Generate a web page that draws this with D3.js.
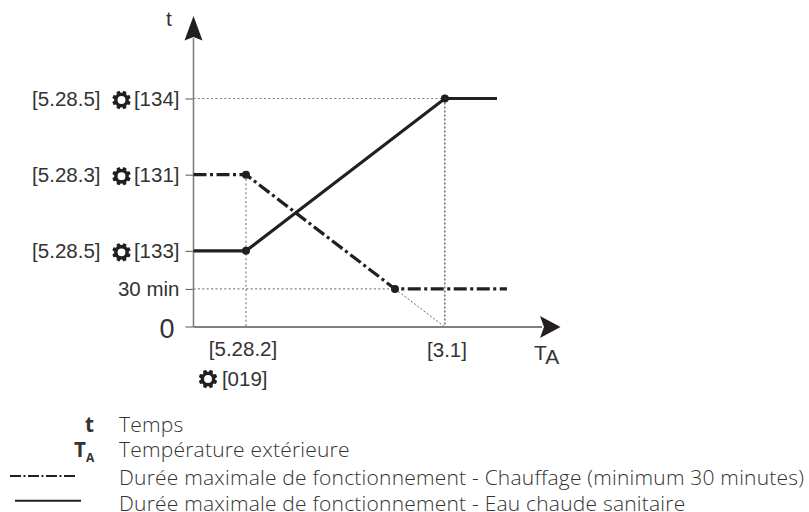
<!DOCTYPE html>
<html><head><meta charset="utf-8">
<script src="https://cdnjs.cloudflare.com/ajax/libs/d3/7.8.5/d3.min.js"></script>
<style>html,body{margin:0;padding:0;background:#fff}svg{display:block}</style></head>
<body><svg id="c" width="809" height="512"></svg>
<script>
// abstract units: TA on 0-100 axis, t in minutes
const hotWaterTA=[0,14.3,68.5,82.7];
const hotWaterT=[60,60,180,180];
const heatingTA=[0,14.3,54.9,85.4];
const heatingT=[120,120,30,30];
const hotWaterKnotsTA=[14.3,68.5];
const hotWaterKnotsT=[60,180];
const heatingKnotsTA=[14.3,54.9];
const heatingKnotsT=[120,30];
const yTickValues=[180,120,60,30];
const yLeftLabels=["[5.28.5]","[5.28.3]","[5.28.5]",""];
const yRightLabels=["[134]","[131]","[133]","30 min"];
const yGear=[true,true,true,false];
const legendTexts=["Temps","Température extérieure","Durée maximale de fonctionnement - Chauffage (minimum 30 minutes)","Durée maximale de fonctionnement - Eau chaude sanitaire"];

const svg=d3.select("#c");
const x=d3.scaleLinear().domain([0,100]).range([193.5,560.5]);
const y=d3.scaleLinear().domain([0,180]).range([327,98.5]);
const AF="'Liberation Sans',Arial,sans-serif", LF="'Open Sans',sans-serif";
const dark="#231f20", txt="#333333", grey="#808080";
const line=d3.line().x(d=>x(d[0])).y(d=>y(d[1]));

function gearPath(r){
  const n=8,pts=[],ro=r,ri=r*0.78;
  for(let i=0;i<n;i++){
    const a=(i+0.5)/n*2*Math.PI, w=Math.PI/n;
    [[-0.72,ri],[-0.42,ro],[0.42,ro],[0.72,ri]].forEach(([k,rr])=>{
      const t=a+k*w; pts.push([rr*Math.cos(t),rr*Math.sin(t)]);
    });
  }
  const hole=r*0.42;
  return d3.line()(pts)+"Z"+`M${hole},0A${hole},${hole} 0 1,0 ${-hole},0A${hole},${hole} 0 1,0 ${hole},0Z`;
}
function gear(cx,cy){
  svg.append("path").attr("d",gearPath(9.4)).attr("transform",`translate(${cx},${cy})`)
    .attr("fill",dark).attr("fill-rule","evenodd");
}

const guide=(x1,y1,x2,y2,w,da,c)=>svg.append("line").attr("x1",x1).attr("y1",y1).attr("x2",x2).attr("y2",y2)
  .attr("stroke",c||grey).attr("stroke-width",w||1.2).attr("stroke-dasharray",da||"2 2.4");
guide(x(0),y(180),x(68.5),y(180));
guide(x(0),y(30),x(54.9),y(30));
guide(x(14.3),y(120),x(14.3),y(0));
guide(x(68.5),y(180),x(68.5),y(0),1,"2 2","#231f20");
guide(x(54.9),y(30),x(68.5),y(0),0.8,"2 2","#444");

const yAxis=d3.axisLeft(y).tickValues(yTickValues).tickSize(8).tickFormat("");
const gy=svg.append("g").attr("transform",`translate(${x(0)},0)`).call(yAxis);
gy.select(".domain").remove();
gy.selectAll("line").attr("stroke","#555").attr("stroke-width",1);
svg.append("line").attr("x1",x(0)).attr("x2",x(0)).attr("y1",y(0)).attr("y2",38).attr("stroke",grey).attr("stroke-width",1.6);
svg.append("line").attr("x1",x(0)-8).attr("x2",x(0)).attr("y1",y(0)).attr("y2",y(0)).attr("stroke","#555").attr("stroke-width",1);
svg.append("line").attr("x1",x(0)).attr("x2",542).attr("y1",y(0)).attr("y2",y(0)).attr("stroke",grey).attr("stroke-width",2);
svg.append("path").attr("d",d3.line()([[x(0),16],[x(0)+9,40.5],[x(0),37],[x(0)-9,40.5]])+"Z").attr("fill",dark);
svg.append("path").attr("d",d3.line()([[560.5,y(0)],[540,y(0)+11],[544,y(0)],[540,y(0)-11]])+"Z").attr("fill",dark);

svg.append("path").datum(d3.zip(heatingTA,heatingT)).attr("d",line).attr("fill","none").attr("stroke",dark).attr("stroke-width",3.2).attr("stroke-dasharray","13 3.5 3 3.5");
svg.append("path").datum(d3.zip(hotWaterTA,hotWaterT)).attr("d",line).attr("fill","none").attr("stroke",dark).attr("stroke-width",3.2);
svg.selectAll(".k1").data(d3.zip(hotWaterKnotsTA,hotWaterKnotsT)).join("circle").attr("cx",d=>x(d[0])).attr("cy",d=>y(d[1])).attr("r",4).attr("fill",dark);
svg.selectAll(".k2").data(d3.zip(heatingKnotsTA,heatingKnotsT)).join("circle").attr("cx",d=>x(d[0])).attr("cy",d=>y(d[1])).attr("r",4).attr("fill",dark);

const T=(s,xx,yy,fs,anc,fam,fw)=>svg.append("text").text(s).attr("x",xx).attr("y",yy).attr("font-size",fs).attr("text-anchor",anc||"start").attr("font-family",fam||AF).attr("font-weight",fw||400).attr("fill",txt);
yTickValues.forEach((v,i)=>{
  const yy=y(v)+7;
  T(yRightLabels[i],179.5,yy,20.5,"end");
  if(yLeftLabels[i]) T(yLeftLabels[i],100.5,yy,20.5,"end");
  if(yGear[i]) gear(121.5,y(v)+1.5);
});
T("t",169,26,21,"middle");
T("0",167,338,27,"middle");
T("[5.28.2]",243,356,20.5,"middle");
gear(208,379); T("[019]",267.5,386,20.5,"end");
T("[3.1]",447,357,20.5,"middle");
const ta=T("T",534,360,21);
ta.append("tspan").text("A").attr("dy",3.5);

const rows=[432,457,484.5,510.5];
legendTexts.forEach((s,i)=>T(s,119,rows[i],21,"start",LF,300).attr("letter-spacing",0.21));
T("t",94,rows[0],20.6,"end",LF,700);
T("T",86,rows[1],20.6,"end",LF,700);
svg.append("text").text("A").attr("x",86).attr("y",rows[1]+5).attr("font-size",12).attr("font-family",LF).attr("font-weight",700).attr("fill",txt);
svg.append("line").attr("x1",10).attr("x2",77).attr("y1",476).attr("y2",476).attr("stroke",dark).attr("stroke-width",1.8).attr("stroke-dasharray","11 2.5 2 2.5");
svg.append("line").attr("x1",15).attr("x2",81).attr("y1",500.7).attr("y2",500.7).attr("stroke",dark).attr("stroke-width",1.9);
</script></body></html>
